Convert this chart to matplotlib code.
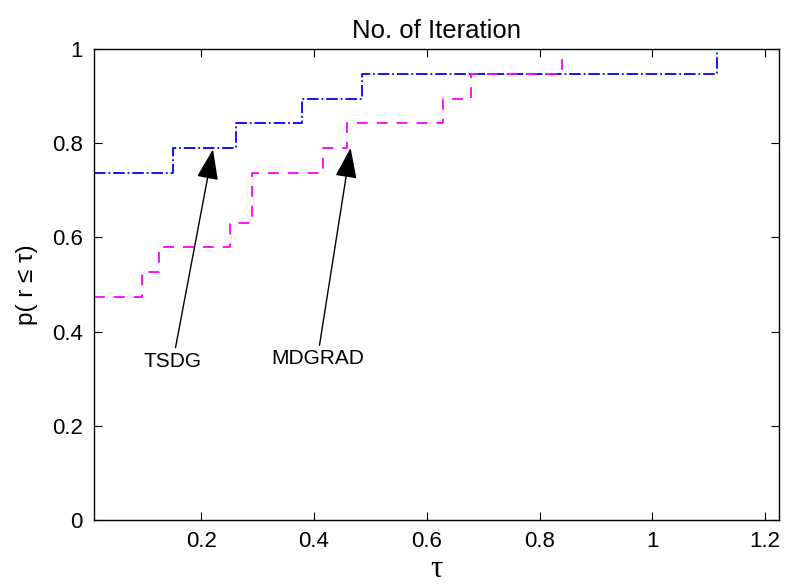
import numpy as np
import matplotlib.pyplot as plt

plt.rcParams['font.family'] = ['Liberation Sans', 'DejaVu Sans']

# performance profile, 19 problems
tau_tsdg = [0.01, 0.150, 0.262, 0.379, 0.485, 1.114]
p_tsdg = [14, 15, 16, 17, 18, 19]
tau_mdgrad = [0.01, 0.096, 0.1255, 0.2514, 0.290, 0.4157, 0.459, 0.628, 0.678, 0.8395]
p_mdgrad = [9, 10, 11, 12, 14, 15, 16, 17, 18, 19]
n_prob = 19
tau_max = 1.2245

xticks = [0.2, 0.4, 0.6, 0.8, 1.0, 1.2]
xticklabels = ['0.2', '0.4', '0.6', '0.8', '1', '1.2']
yticks = [0, 0.2, 0.4, 0.6, 0.8, 1.0]
yticklabels = ['0', '0.2', '0.4', '0.6', '0.8', '1']

fig = plt.figure(figsize=(7.85, 5.88), dpi=100)
ax = fig.add_axes([0.1197, 0.1156, 0.8727, 0.8011])

x1 = tau_tsdg + [tau_max]
y1 = np.array(p_tsdg + [p_tsdg[-1]]) / n_prob
x2 = tau_mdgrad + [tau_max]
y2 = np.array(p_mdgrad + [p_mdgrad[-1]]) / n_prob

ax.step(x1, y1, where='post', color='#0000ff', linestyle='-.', lw=1.3)
ax.step(x2, y2, where='post', color='#ff00ff', linestyle='--', lw=1.3, dashes=(6, 5))

ax.set_xlim(0.01, tau_max)
ax.set_ylim(0, 1)
ax.set_xticks(xticks)
ax.set_xticklabels(xticklabels)
ax.set_yticks(yticks)
ax.set_yticklabels(yticklabels)
ax.tick_params(direction='in', top=True, right=True, length=6, labelsize=16, pad=8)
for s in ax.spines.values():
    s.set_linewidth(1.0)

arrow = dict(arrowstyle='-|>,head_length=0.95,head_width=0.34', mutation_scale=20,
             color='black', lw=1.0, shrinkA=1, shrinkB=0)
ax.annotate('TSDG', xy=(0.221, 0.787), xytext=(0.150, 0.337), fontsize=15,
            ha='center', va='center', arrowprops=arrow)
ax.annotate('MDGRAD', xy=(0.465, 0.790), xytext=(0.406, 0.342), fontsize=15,
            ha='center', va='center', arrowprops=arrow)

ax.set_title('No. of Iteration', fontsize=18.5, pad=8)
ax.set_xlabel('τ', fontsize=22, family='Liberation Serif', labelpad=2)
ax.set_ylabel('p( r ≤ τ)', fontsize=17.5, labelpad=10)

fig.savefig('out.png', dpi=100)
